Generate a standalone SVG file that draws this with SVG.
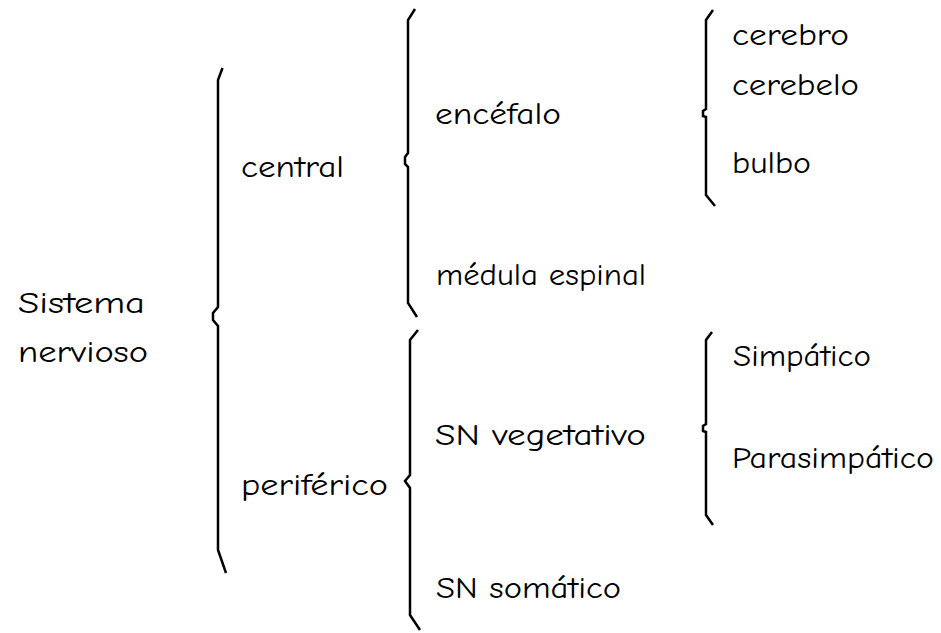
<svg xmlns="http://www.w3.org/2000/svg" width="941" height="633" viewBox="0 0 941 633">
<style>
text{font-family:"Comic Sans MS","Comic Neue","DejaVu Sans",sans-serif;font-size:30px;fill:#000}
.big{font-size:31px}
.brace{fill:none;stroke:#000;stroke-width:2.5;stroke-linejoin:miter}
</style>
<rect width="941" height="633" fill="#fff"/>
<g id="connectors">
<path class="brace" d="M222.5,68 L218,80 L218,307 L213,313 L213,320 L218,326 L218,550 L226,573"/>
<path class="brace" d="M415,9 L408,20 L408,153 L405,157 L405,164 L408,167 L408,303 L417,317"/>
<path class="brace" d="M418,330 L410,340 L410,475 L405,481 L410,488 L410,615 L420,630"/>
<path class="brace" d="M713,10 L706,20 L706,109 L703,111 L703,116 L706,117 L706,195 L715,206"/>
<path class="brace" d="M712,332 L706,340 L706,424 L703,426 L703,431 L706,432 L706,515 L713,525"/>
</g>
<g id="sistema"><text class="big" x="18" y="313" textLength="127" lengthAdjust="spacingAndGlyphs">Sistema</text><text class="big" x="18" y="362" textLength="130" lengthAdjust="spacingAndGlyphs">nervioso</text></g>
<g id="central"><text x="241" y="177" textLength="103" lengthAdjust="spacingAndGlyphs">central</text></g>
<g id="periferico"><text x="241" y="495" textLength="147" lengthAdjust="spacingAndGlyphs">periférico</text></g>
<g id="encefalo"><text x="435" y="124" textLength="126" lengthAdjust="spacingAndGlyphs">encéfalo</text></g>
<g id="medula"><text x="436" y="285" textLength="210" lengthAdjust="spacingAndGlyphs">médula espinal</text></g>
<g id="vegetativo"><text x="435" y="445" textLength="211" lengthAdjust="spacingAndGlyphs">SN vegetativo</text></g>
<g id="somatico"><text x="436" y="598" textLength="185" lengthAdjust="spacingAndGlyphs">SN somático</text></g>
<g id="cerebro"><text x="732" y="45" textLength="117" lengthAdjust="spacingAndGlyphs">cerebro</text></g>
<g id="cerebelo"><text x="732" y="95" textLength="127" lengthAdjust="spacingAndGlyphs">cerebelo</text></g>
<g id="bulbo"><text x="732" y="173" textLength="79" lengthAdjust="spacingAndGlyphs">bulbo</text></g>
<g id="simpatico"><text x="733" y="366" textLength="138" lengthAdjust="spacingAndGlyphs">Simpático</text></g>
<g id="parasimpatico"><text x="732" y="468" textLength="202" lengthAdjust="spacingAndGlyphs">Parasimpático</text></g>
</svg>
